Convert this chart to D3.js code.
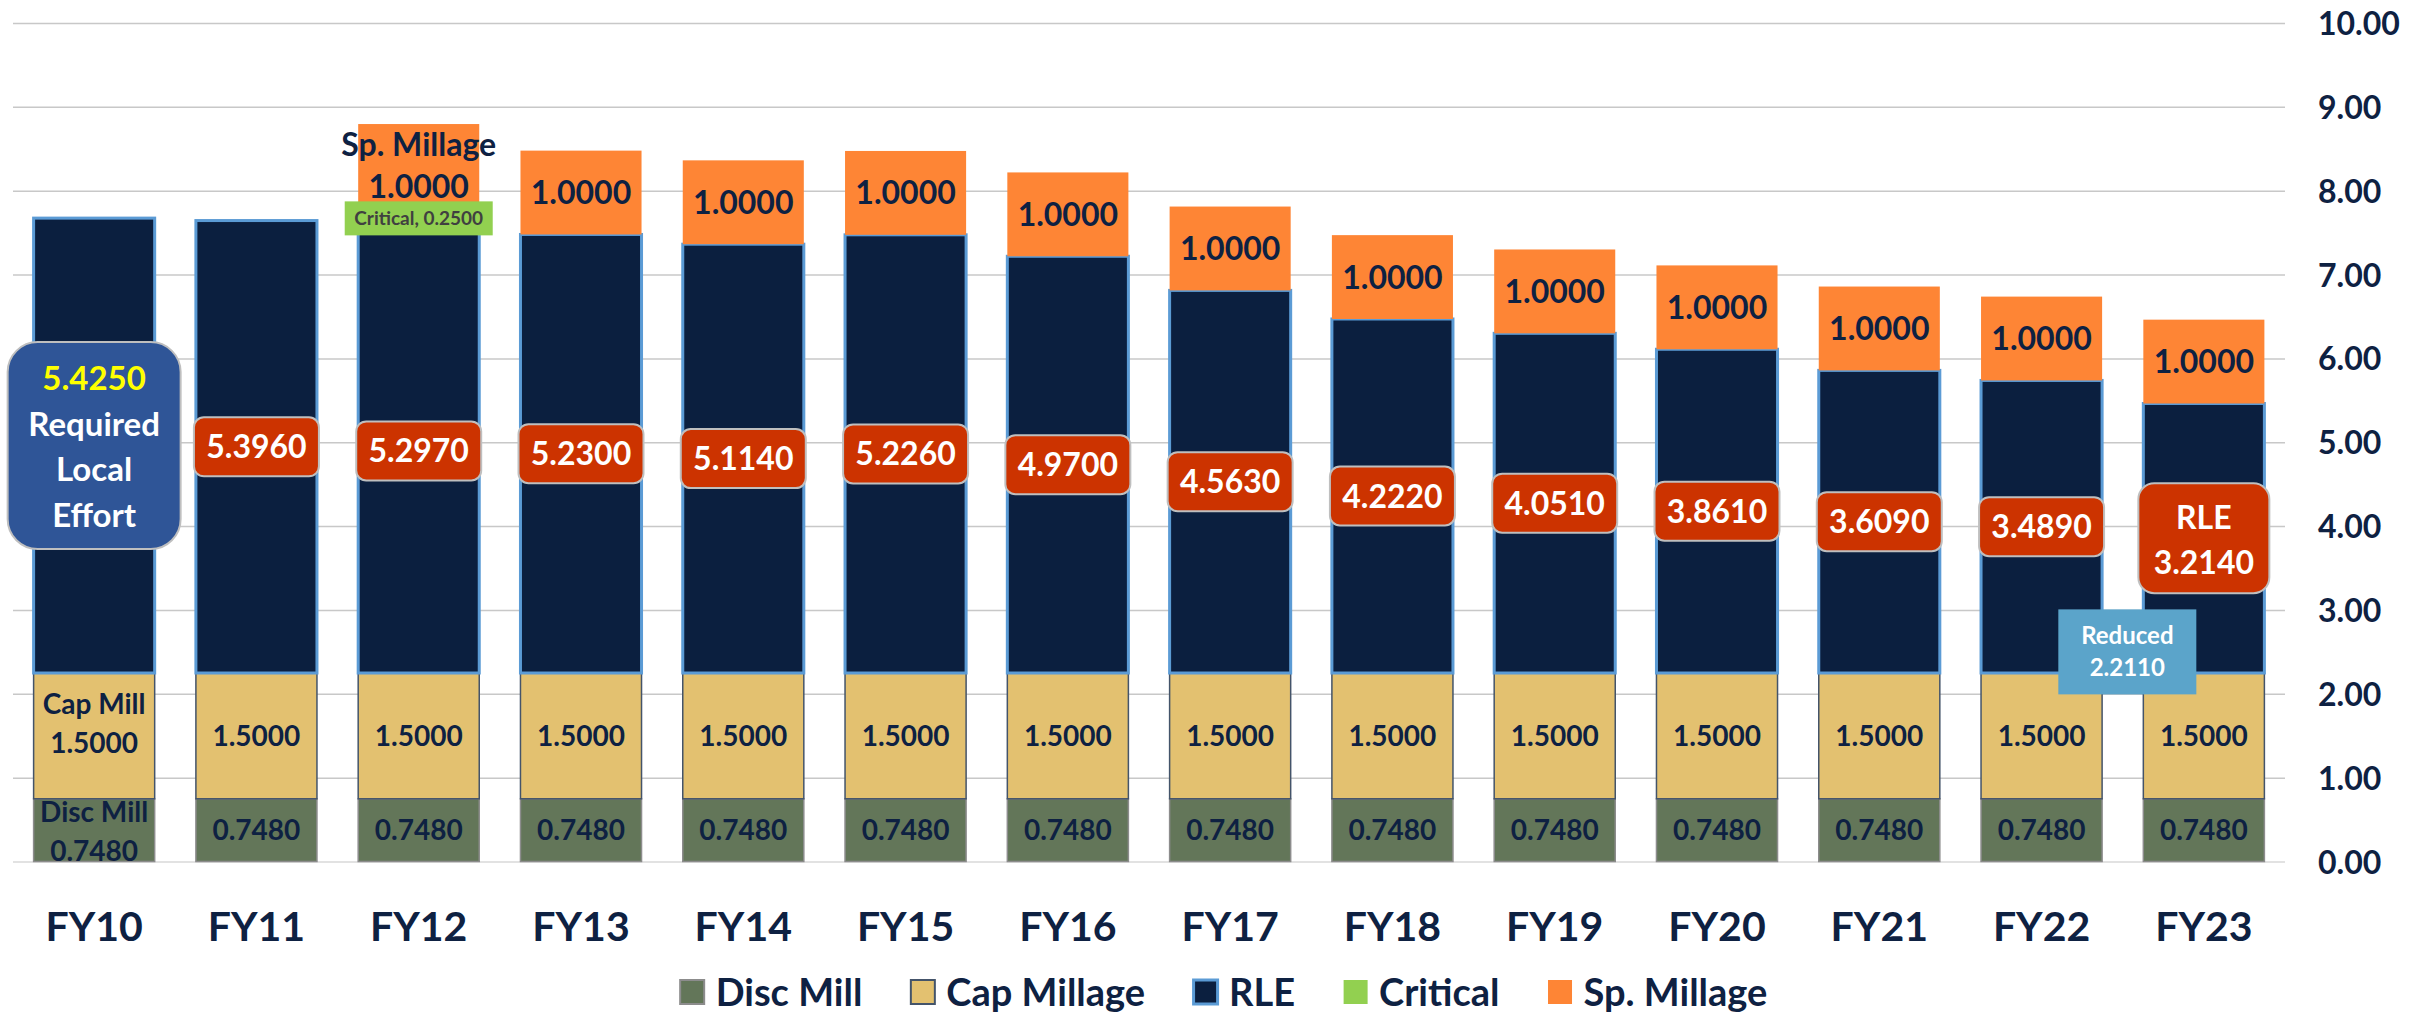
<!DOCTYPE html>
<html>
<head>
<meta charset="utf-8">
<script src="https://cdn.jsdelivr.net/npm/d3@7"></script>
<style>
body { margin: 0; background: #ffffff; }
svg text { font-family: Lato, "Open Sans", sans-serif; font-weight: bold; }
</style>
</head>
<body>
<div id="chart"></div>
<script>
// chart data
var categories = ["FY10", "FY11", "FY12", "FY13", "FY14", "FY15", "FY16", "FY17", "FY18", "FY19", "FY20", "FY21", "FY22", "FY23"];
var discMill   = [0.748, 0.748, 0.748, 0.748, 0.748, 0.748, 0.748, 0.748, 0.748, 0.748, 0.748, 0.748, 0.748, 0.748];
var capMillage = [1.5, 1.5, 1.5, 1.5, 1.5, 1.5, 1.5, 1.5, 1.5, 1.5, 1.5, 1.5, 1.5, 1.5];
var rle        = [5.425, 5.396, 5.297, 5.230, 5.114, 5.226, 4.970, 4.563, 4.222, 4.051, 3.861, 3.609, 3.489, 3.214];
var critical   = [0, 0, 0.25, 0, 0, 0, 0, 0, 0, 0, 0, 0, 0, 0];
var spMillage  = [0, 0, 1, 1, 1, 1, 1, 1, 1, 1, 1, 1, 1, 1];
var seriesNames = ["Disc Mill", "Cap Millage", "RLE", "Critical", "Sp. Millage"];
var yTicks = [0, 1, 2, 3, 4, 5, 6, 7, 8, 9, 10];

// labels that also show the series name
var labelNames = { "Disc Mill": "Disc Mill", "Cap Millage": "Cap Mill", "RLE": "RLE", "Critical": "Critical", "Sp. Millage": "Sp. Millage" };
var namedLabelAt = { "Disc Mill": "FY10", "Cap Millage": "FY10", "RLE": "FY23", "Sp. Millage": "FY12" };
var callout = { cat: "FY10", lines: ["Required", "Local", "Effort"] };
var reduced = { cat: "FY23", label: "Reduced", value: 2.211 };

var fills   = { "Disc Mill": "#637659", "Cap Millage": "#E3C170", "RLE": "#0B1F3F", "Critical": "#92D050", "Sp. Millage": "#FE8535" };
var strokes = { "Disc Mill": "#8C8C8C", "Cap Millage": "#44546A", "RLE": "#5B9BD5", "Critical": "none", "Sp. Millage": "none" };
var strokeW = { "Disc Mill": 1.5, "Cap Millage": 1.5, "RLE": 3, "Critical": 0, "Sp. Millage": 0 };
var navy = "#0E2142";

var W = 2432, H = 1015;
var plotLeft = 13, plotRight = 2285, plotTop = 23, plotBottom = 861.5;

var rows = categories.map(function(c, i) {
	return { cat: c, "Disc Mill": discMill[i], "Cap Millage": capMillage[i], "RLE": rle[i], "Critical": critical[i], "Sp. Millage": spMillage[i] };
});
var stacked = d3.stack().keys(seriesNames)(rows);

var x = d3.scaleBand().domain(categories).range([plotLeft, plotRight]).paddingInner(0.254).paddingOuter(0.127);
var y = d3.scaleLinear().domain([0, 10]).range([plotBottom, plotTop]);
var fmt = d3.format(".4f");

var svg = d3.select("#chart").append("svg")
	.attr("width", W)
	.attr("height", H);

svg.append("defs").append("clipPath").attr("id", "plotclip")
	.append("rect").attr("x", 0).attr("y", 0).attr("width", plotRight + 10).attr("height", plotBottom);

// gridlines + right axis labels
var yAxis = svg.append("g")
	.attr("transform", "translate(" + plotRight + ",0)")
	.call(d3.axisRight(y).tickValues(yTicks).tickFormat(d3.format(".2f")).tickSize(-(plotRight - plotLeft)).tickPadding(33));
yAxis.select(".domain").remove();
yAxis.selectAll("line")
	.style("stroke", function(d) { return d == 0 ? "#D9D9D9" : "#C8C8C8"; })
	.style("stroke-width", 1.5);
yAxis.selectAll("text")
	.style("font-size", "32px")
	.style("fill", navy)
	.attr("dy", "0.36em");

// category labels
var xAxis = svg.append("g")
	.attr("transform", "translate(0," + plotBottom + ")")
	.call(d3.axisBottom(x).tickSize(0));
xAxis.select(".domain").remove();
xAxis.selectAll("text")
	.attr("y", 64.5)
	.attr("dy", "0.36em")
	.style("font-size", "41px")
	.style("fill", navy);

// stacked bars
svg.append("g").selectAll("g")
	.data(stacked)
	.enter().append("g")
	.attr("fill", function(d) { return fills[d.key]; })
	.attr("stroke", function(d) { return strokes[d.key]; })
	.attr("stroke-width", function(d) { return strokeW[d.key]; })
	.selectAll("rect")
	.data(function(d) { return d.filter(function(p) { return p[1] - p[0] > 0; }); })
	.enter().append("rect")
	.attr("x", function(d) { return x(d.data.cat); })
	.attr("y", function(d) { return y(d[1]); })
	.attr("width", x.bandwidth())
	.attr("height", function(d) { return y(d[0]) - y(d[1]); });

// data labels
var lab = svg.append("g").attr("clip-path", "url(#plotclip)");

function multiText(g, cx, cy, lines, offsets, size, color) {
	lines.forEach(function(t, i) {
		g.append("text")
			.attr("x", cx)
			.attr("y", cy + offsets[i])
			.attr("dy", "0.36em")
			.attr("text-anchor", "middle")
			.style("font-size", size + "px")
			.style("fill", Array.isArray(color) ? color[i] : color)
			.text(t);
	});
}

stacked.forEach(function(s) {
	s.forEach(function(p) {
		var v = p[1] - p[0];
		if (v <= 0) return;
		var cat = p.data.cat;
		var cx = x(cat) + x.bandwidth() / 2;
		var cy = y((p[0] + p[1]) / 2);
		var named = namedLabelAt[s.key] == cat;

		if (s.key == "Disc Mill") {
			if (named) multiText(lab, cx, cy, [labelNames[s.key], fmt(v)], [-18, 21], 28, navy);
			else multiText(lab, cx, cy, [fmt(v)], [0], 28, navy);
		}
		else if (s.key == "Cap Millage") {
			if (named) multiText(lab, cx, cy, [labelNames[s.key], fmt(v)], [-32, 7], 28, navy);
			else multiText(lab, cx, cy, [fmt(v)], [0], 28, navy);
		}
		else if (s.key == "Sp. Millage") {
			if (named) multiText(lab, cx, cy, [labelNames[s.key], fmt(v)], [-21, 21], 32, navy);
			else multiText(lab, cx, cy, [fmt(v)], [0], 32, navy);
		}
		else if (s.key == "Critical") {
			var gc = lab.append("g");
			gc.append("rect")
				.attr("x", cx - 74).attr("y", cy - 17)
				.attr("width", 148).attr("height", 34)
				.attr("fill", fills["Critical"]);
			multiText(gc, cx, cy, [labelNames[s.key] + ", " + fmt(v)], [0], 19, "#404040");
		}
		else if (s.key == "RLE") {
			var g = lab.append("g");
			if (cat == callout.cat) {
				g.append("rect")
					.attr("x", cx - 86.5).attr("y", cy - 103.5)
					.attr("width", 173).attr("height", 207)
					.attr("rx", 30)
					.attr("fill", "#2F5597")
					.attr("stroke", "#BFBFBF").attr("stroke-width", 2);
				multiText(g, cx, cy, [fmt(v)].concat(callout.lines), [-67, -21, 24, 70], 33, ["#FFFF00", "#FFFFFF", "#FFFFFF", "#FFFFFF"]);
			}
			else if (named) {
				g.append("rect")
					.attr("x", cx - 65.5).attr("y", cy - 55)
					.attr("width", 131).attr("height", 110)
					.attr("rx", 16)
					.attr("fill", "#CC3300")
					.attr("stroke", "#BFBFBF").attr("stroke-width", 2);
				multiText(g, cx, cy, [labelNames[s.key], fmt(v)], [-21, 24], 32, "#FFFFFF");
			}
			else {
				g.append("rect")
					.attr("x", cx - 62.5).attr("y", cy - 29.5)
					.attr("width", 125).attr("height", 59)
					.attr("rx", 10)
					.attr("fill", "#CC3300")
					.attr("stroke", "#BFBFBF").attr("stroke-width", 2);
				multiText(g, cx, cy, [fmt(v)], [0], 32, "#FFFFFF");
			}
		}
	});
});

// reduced annotation
var rx0 = x(reduced.cat) - 16;
var ry0 = y(2.5);
var gr = svg.append("g");
gr.append("rect")
	.attr("x", rx0 - 69).attr("y", ry0 - 42.5)
	.attr("width", 138).attr("height", 85)
	.attr("fill", "#5BA4CA");
multiText(gr, rx0, ry0, [reduced.label, fmt(reduced.value)], [-16.5, 15.5], 24, "#FFFFFF");

// legend
var legend = svg.append("g");
var items = legend.selectAll("g")
	.data(seriesNames)
	.enter().append("g");
items.append("rect")
	.attr("x", 1.5).attr("y", -12)
	.attr("width", 24).attr("height", 24)
	.attr("fill", function(d) { return fills[d]; })
	.attr("stroke", function(d) { return strokes[d]; })
	.attr("stroke-width", function(d) { return d == "RLE" ? 3 : 2; });
items.append("text")
	.attr("x", 37)
	.attr("dy", "0.36em")
	.style("font-size", "38px")
	.style("fill", navy)
	.text(function(d) { return d; });

var pos = 0, starts = [];
items.each(function(d) {
	starts.push(pos);
	pos += 37 + d3.select(this).select("text").node().getComputedTextLength() + 47;
});
var total = pos - 47;
var lx = 1223 - total / 2;
items.attr("transform", function(d, i) { return "translate(" + (lx + starts[i]) + ",992)"; });

</script>
</body>
</html>
